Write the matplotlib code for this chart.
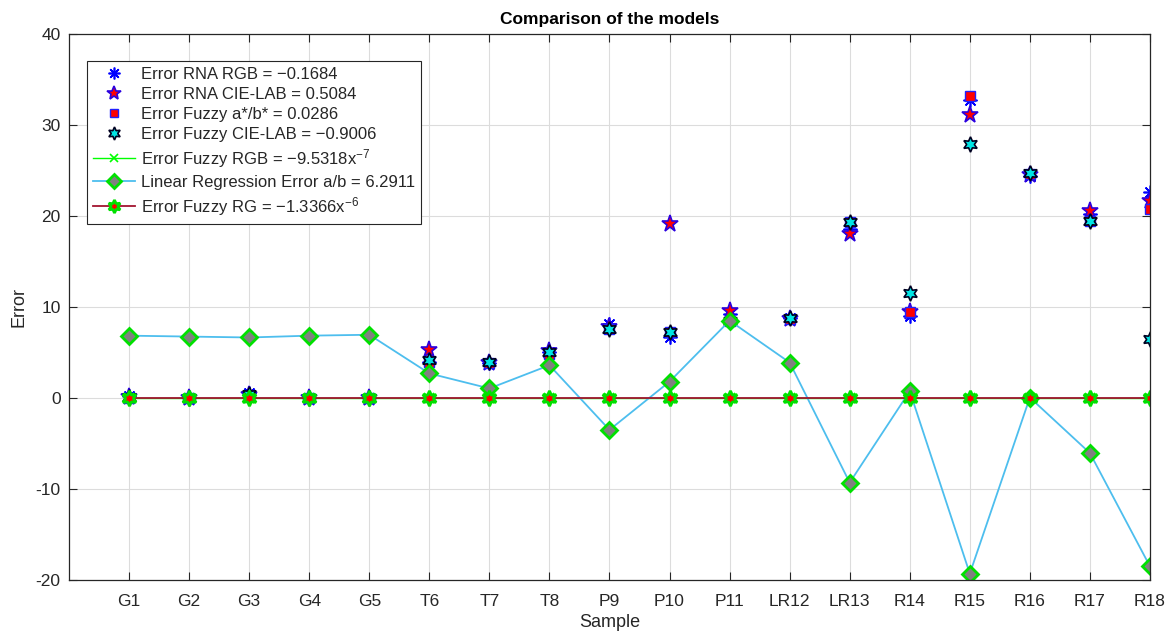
import matplotlib
matplotlib.use('Agg')
import matplotlib.pyplot as plt

plt.rcParams['font.family'] = ['Liberation Sans', 'DejaVu Sans']
plt.rcParams['mathtext.default'] = 'regular'
plt.rcParams['axes.unicode_minus'] = False

samples = ['G1', 'G2', 'G3', 'G4', 'G5', 'T6', 'T7', 'T8', 'P9', 'P10',
           'P11', 'LR12', 'LR13', 'R14', 'R15', 'R16', 'R17', 'R18']
rna_rgb = [0.2, 0.0, 0.5, 0.0, 0.0, 4.0, 3.8, 5.0, 8.1, 6.7,
           9.2, 8.8, 18.6, 9.0, 32.8, 24.4, 20.2, 22.6]
rna_lab = [0.1, 0.0, 0.3, 0.0, 0.0, 5.3, 3.9, 5.2, 7.8, 19.1,
           9.6, 8.7, 18.0, 9.5, 31.1, 24.5, 20.5, 21.6]
fuzzy_ab = [0.0, 0.0, 0.2, 0.0, 0.0, 4.0, 3.8, 4.8, 7.6, 7.2,
            8.5, 8.7, 19.3, 9.4, 33.2, 24.6, 19.4, 20.8]
fuzzy_lab = [0.1, 0.0, 0.4, 0.0, 0.0, 4.2, 4.0, 5.1, 7.6, 7.2,
             8.5, 8.75, 19.3, 11.5, 27.9, 24.7, 19.4, 6.5]
fuzzy_rgb = [0.0, 0.0, 0.0, 0.0, 0.0, 0.0, 0.0, 0.0, 0.0, 0.0,
             0.0, 0.0, 0.0, 0.0, 0.0, 0.0, 0.0, 0.0]
lin_reg = [6.85, 6.75, 6.65, 6.85, 6.95, 2.7, 1.05, 3.6, -3.5, 1.8,
           8.5, 3.9, -9.3, 0.75, -19.3, 0.05, -6.05, -18.5]
fuzzy_rg = [0.0, 0.0, 0.0, 0.0, 0.0, 0.0, 0.0, 0.0, 0.0, 0.0,
            0.0, 0.0, 0.0, 0.0, 0.0, 0.0, 0.0, 0.0]

labels = ['Error RNA RGB = \u22120.1684',
          'Error RNA CIE-LAB = 0.5084',
          'Error Fuzzy a*/b* = 0.0286',
          'Error Fuzzy CIE-LAB = \u22120.9006',
          'Error Fuzzy RGB = \u22129.5318x$^{\u22127}$',
          'Linear Regression Error a/b = 6.2911',
          'Error Fuzzy RG = \u22121.3366x$^{\u22126}$']

x = list(range(1, len(samples) + 1))
DK = '#262626'
HEXA = (6, 1, 0)

fig = plt.figure(figsize=(11.72, 6.37), dpi=100)
ax = fig.add_axes([0.0589, 0.0895, 0.9223, 0.8571])

ax.plot(x, rna_rgb, ls='none', marker=(8, 2, 0), ms=10, mec='#0000ff', mew=1.2, label=labels[0])
ax.plot(x, rna_lab, ls='none', marker='*', ms=12.5, mfc='#ff0000', mec='#2a00e0', mew=1.2, label=labels[1])
ax.plot(x, fuzzy_ab, ls='none', marker='s', ms=7.5, mfc='#ff0000', mec='#1f1fff', mew=1.0, label=labels[2])
ax.plot(x, fuzzy_lab, ls='none', marker=HEXA, ms=11, mfc='#00e5e5', mec='#000020', mew=1.2, label=labels[3])
ax.plot(x, fuzzy_rgb, color='#00ff00', lw=1.0, marker='x', ms=7, mec='#00ff00', mew=1.2, label=labels[4])
ax.plot(x, lin_reg, color='#4dbeee', lw=1.3, marker='D', ms=8.5, mfc='#808080', mec='#00e000', mew=2.0, label=labels[5])
ax.plot(x, fuzzy_rg, color='#a2142f', lw=1.3, marker=HEXA, ms=11, mfc='#ff0000', mec='#00e000', mew=2.0, label=labels[6])

ax.set_xlim(0, 18)
ax.set_ylim(-20, 40)
ax.set_xticks(x)
ax.set_xticklabels(samples)
ax.set_yticks([-20, -10, 0, 10, 20, 30, 40])
ax.grid(True, color='#dcdcdc', lw=0.8)
ax.set_axisbelow(True)
ax.tick_params(direction='in', length=6, width=0.8, colors=DK, labelsize=12.5,
               top=True, right=True)
ax.tick_params(axis='x', pad=10)
ax.tick_params(axis='y', pad=6)
for s in ax.spines.values():
    s.set_color(DK)
    s.set_linewidth(0.9)

ax.set_xlabel('Sample', fontsize=13, color=DK, labelpad=4)
ax.set_ylabel('Error', fontsize=13, color=DK, labelpad=6)
ax.set_title('Comparison of the models', fontsize=12.5, fontweight='bold', pad=7)

leg = ax.legend(loc='upper left', bbox_to_anchor=(0.0167, 0.9505), borderaxespad=0,
                fontsize=12, fancybox=False, framealpha=1, edgecolor=DK,
                handlelength=2.5, handletextpad=0.4, labelspacing=0.3,
                borderpad=0.35, numpoints=1, markerscale=0.85)
leg.get_frame().set_linewidth(0.8)
for t in leg.get_texts():
    t.set_color(DK)

fig.savefig('out.png', dpi=100)
